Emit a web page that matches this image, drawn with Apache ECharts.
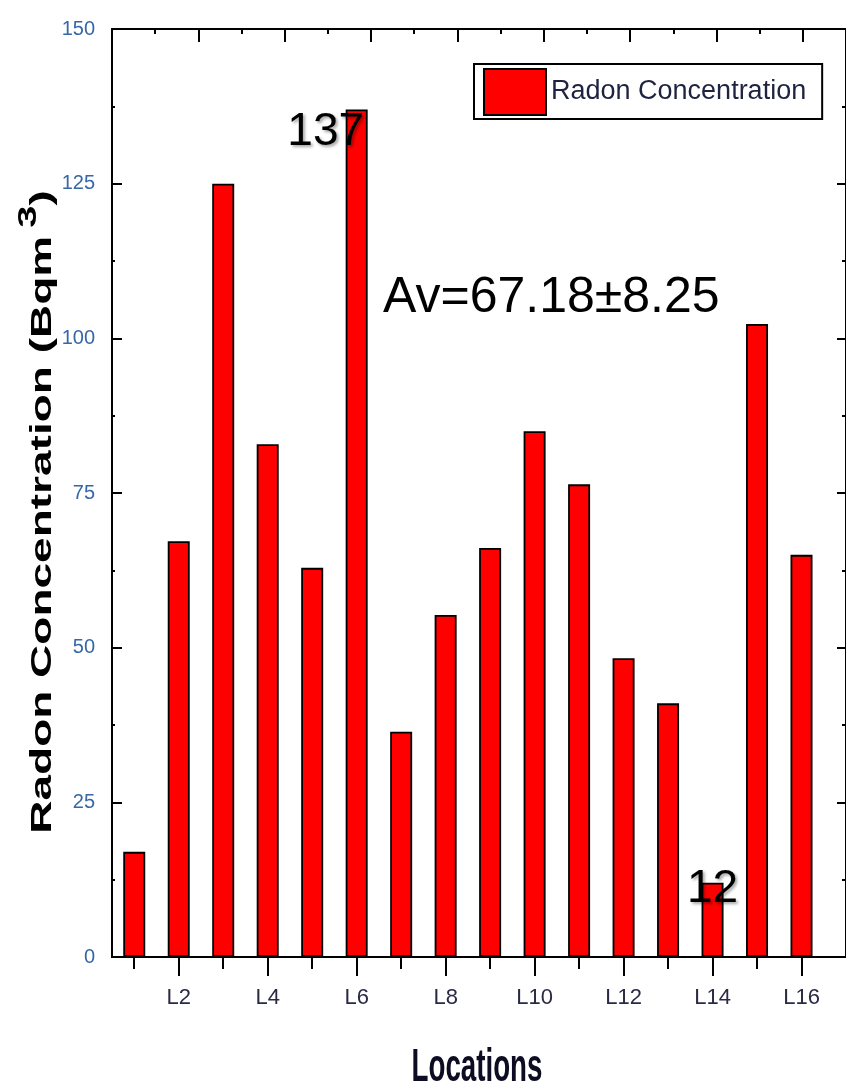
<!DOCTYPE html>
<html>
<head>
<meta charset="utf-8">
<script src="https://cdn.jsdelivr.net/npm/echarts@6/dist/echarts.min.js"></script>
<style>
  html, body { margin: 0; padding: 0; background: #ffffff; }
  #chart { width: 846px; height: 1088px; }
</style>
</head>
<body>
<div id="chart"></div>
<script>
// Sampling locations and measured radon concentration (Bq m^-3)
const categories = ['L1', 'L2', 'L3', 'L4', 'L5', 'L6', 'L7', 'L8',
                    'L9', 'L10', 'L11', 'L12', 'L13', 'L14', 'L15', 'L16'];
const radonValues = [17, 67.2, 125, 82.9, 62.9, 137, 36.4, 55.3,
                     66.1, 85, 76.4, 48.3, 41, 12, 102.3, 65];
// Locations whose value is written next to the bar
const annotatedLocations = ['L6', 'L14'];
// Axis ticks
const yTicks = [0, 25, 50, 75, 100, 125, 150];
const labelledLocations = ['L2', 'L4', 'L6', 'L8', 'L10', 'L12', 'L14', 'L16'];
const averageText = 'Av=67.18\u00B18.25';
const seriesName = 'Radon Concentration';

const sans = "'Liberation Sans', Arial, sans-serif";

const posOf = name => categories.indexOf(name) + 1;
const majorX = labelledLocations.map(posOf);
const minorX = categories.map(posOf).filter(p => majorX.indexOf(p) < 0);

const labelPlacement = {
  L6: [-20, 23],
  L14: [11, 7]
};

const barData = categories.map((name, i) => {
  const item = { value: [i + 1, radonValues[i]] };
  if (annotatedLocations.indexOf(name) >= 0) {
    item.label = {
      show: true,
      position: labelPlacement[name],
      align: 'center',
      verticalAlign: 'middle',
      formatter: p => String(Math.round(p.value[1])),
      fontFamily: sans,
      fontSize: 46,
      color: '#000',
      textShadowColor: 'rgba(0,0,0,0.35)',
      textShadowBlur: 3,
      textShadowOffsetX: 2,
      textShadowOffsetY: 2
    };
  }
  return item;
});

const black = { color: '#000', width: 2 };

const chart = echarts.init(document.getElementById('chart'), null, { renderer: 'canvas' });

chart.setOption({
  animation: false,
  backgroundColor: '#ffffff',
  grid: { left: 112, right: -1, top: 29, bottom: 131 },
  legend: {
    data: [seriesName],
    left: 474,
    top: 64,
    padding: [4, 16, 3, 9],
    borderColor: '#000',
    borderWidth: 2,
    backgroundColor: '#fff',
    itemWidth: 62,
    itemHeight: 46,
    icon: 'rect',
    textStyle: { fontFamily: sans, fontSize: 27, color: '#1e2340' }
  },
  xAxis: [
    {
      // bottom axis: labelled even locations, long ticks
      type: 'value', position: 'bottom', min: 0.5, max: 17,
      axisLine: { show: true, lineStyle: black },
      axisTick: { show: true, inside: false, length: 19, lineStyle: black, customValues: majorX },
      axisLabel: {
        show: true, customValues: majorX, margin: 30,
        formatter: v => categories[Math.round(v) - 1],
        fontFamily: sans, fontSize: 22, color: '#2a2a44'
      },
      splitLine: { show: false }
    },
    {
      // bottom axis: short ticks at the odd locations
      type: 'value', position: 'bottom', min: 0.5, max: 17,
      axisLine: { show: true, lineStyle: black },
      axisTick: { show: true, inside: false, length: 12, lineStyle: black, customValues: minorX },
      axisLabel: { show: false },
      splitLine: { show: false }
    },
    {
      // top frame axis
      type: 'value', position: 'top', min: 0, max: 17, interval: 2,
      axisLine: { show: true, lineStyle: black },
      axisTick: { show: true, inside: true, length: 13, lineStyle: black },
      minorTick: { show: true, splitNumber: 2, length: 5, lineStyle: { color: '#000', width: 2 } },
      axisLabel: { show: false },
      splitLine: { show: false }
    }
  ],
  yAxis: [
    {
      type: 'value', position: 'left', min: yTicks[0], max: yTicks[yTicks.length - 1],
      interval: yTicks[1] - yTicks[0],
      axisLine: { show: true, lineStyle: black },
      axisTick: { show: true, inside: true, length: 10, lineStyle: black },
      minorTick: { show: true, splitNumber: 2, length: 3, lineStyle: { color: '#000', width: 2 } },
      axisLabel: { margin: 17, fontFamily: sans, fontSize: 20, color: '#3767a6' },
      splitLine: { show: false }
    },
    {
      type: 'value', position: 'right', min: yTicks[0], max: yTicks[yTicks.length - 1],
      interval: yTicks[1] - yTicks[0],
      axisLine: { show: true, lineStyle: black },
      axisTick: { show: true, inside: true, length: 9, lineStyle: black },
      minorTick: { show: true, splitNumber: 2, length: 4, lineStyle: { color: '#000', width: 2 } },
      axisLabel: { show: false },
      splitLine: { show: false }
    }
  ],
  series: [
    {
      name: seriesName,
      type: 'bar',
      xAxisIndex: 0,
      yAxisIndex: 0,
      barWidth: 22,
      data: barData,
      itemStyle: { color: '#ff0000', borderColor: '#000', borderWidth: 1.8 },
      label: { show: false },
      z: 2
    }
  ],
  graphic: [
    {
      // vertical axis title
      type: 'text',
      x: 37, y: 512,
      rotation: Math.PI / 2,
      scaleX: 1, scaleY: 0.64,
      style: {
        text: '{a|Radon Concentration (Bqm}{s|3}{a|)}',
        align: 'center',
        verticalAlign: 'middle',
        fill: '#000',
        rich: {
          a: { fontFamily: sans, fontWeight: 'bold', fontSize: 46, lineHeight: 64, verticalAlign: 'bottom' },
          s: { fontFamily: sans, fontWeight: 'bold', fontSize: 40, lineHeight: 64, verticalAlign: 'top', padding: [0, 0, 0, 8] }
        }
      }
    },
    {
      // horizontal axis title
      type: 'text',
      x: 477, y: 1068,
      scaleX: 0.59, scaleY: 1,
      style: {
        text: 'Locations',
        align: 'center',
        verticalAlign: 'middle',
        fontFamily: sans,
        fontWeight: 'bold',
        fontSize: 47,
        fill: '#0c0c22'
      }
    },
    {
      // mean and uncertainty
      type: 'text',
      x: 383, y: 298,
      style: {
        text: averageText,
        align: 'left',
        verticalAlign: 'middle',
        fontFamily: sans,
        fontSize: 50,
        fill: '#000',
        shadowColor: 'rgba(0,0,0,0.35)',
        shadowBlur: 3,
        shadowOffsetX: 2,
        shadowOffsetY: 2
      }
    }
  ]
});
</script>
</body>
</html>
